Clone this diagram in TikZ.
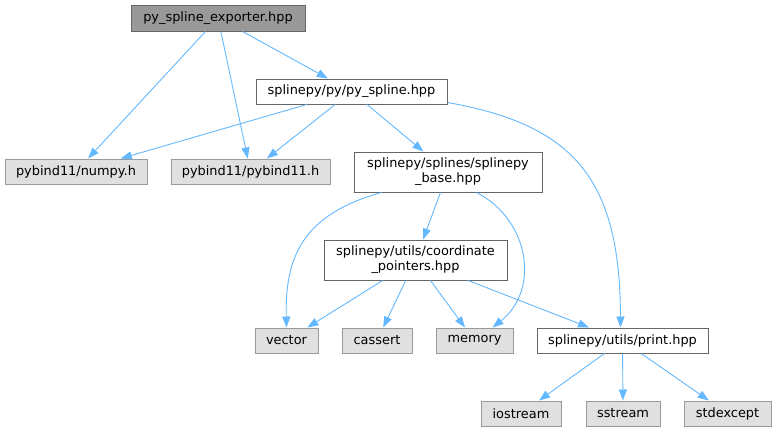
\documentclass[tikz,border=0pt]{standalone}
\usepackage{fontspec}
\setmainfont{DejaVu Sans}
\usetikzlibrary{arrows.meta,calc}
\definecolor{edgecol}{HTML}{63B8FF}
\definecolor{bordercol}{HTML}{666666}
\definecolor{extborder}{HTML}{999999}
\definecolor{extfill}{HTML}{E0E0E0}
\definecolor{rootfill}{HTML}{999999}
\begin{document}
\begin{tikzpicture}[x=1pt,y=-1pt,
  box/.style={draw=bordercol, fill=white, minimum height=25pt, inner sep=0pt,
    font=\fontsize{12.9}{15}\selectfont, align=center, line width=1pt},
  ext/.style={box, fill=extfill, draw=extborder},
  root/.style={box, fill=rootfill, draw=bordercol},
  dep/.style={draw=edgecol, line width=0.9pt, -{Triangle[length=11pt,width=8pt]}}]
\useasboundingbox (0,0) rectangle (777,432);

\node[root, minimum width=174pt, minimum height=26pt] (exp) at (218,18) {py\_spline\_exporter.hpp};
\node[box, minimum width=191pt] (pys) at (351.5,91.5) {splinepy/py/py\_spline.hpp};
\node[ext, minimum width=142pt] (np) at (76,171.5) {pybind11/numpy.h};
\node[ext, minimum width=159pt] (pb) at (250.5,171.5) {pybind11/pybind11.h};
\node[box, minimum width=188pt, minimum height=40pt] (base) at (448,172) {splinepy/splines/splinepy\\\_base.hpp};
\node[box, minimum width=183pt, minimum height=40pt] (coord) at (415.5,260) {splinepy/utils/coordinate\\\_pointers.hpp};
\node[ext, minimum width=63pt] (vec) at (286.5,340.5) {vector};
\node[ext, minimum width=70pt] (cas) at (377,340.5) {cassert};
\node[ext, minimum width=77pt] (mem) at (474.5,340.5) {memory};
\node[box, minimum width=171pt] (prt) at (622.5,340.5) {splinepy/utils/print.hpp};
\node[ext, minimum width=80pt] (ios) at (521,413.5) {iostream};
\node[ext, minimum width=74pt] (sst) at (623,413.5) {sstream};
\node[ext, minimum width=87pt] (std) at (727.5,413.5) {stdexcept};

\draw[dep] (exp) -- (np);
\draw[dep] (exp) -- (pb);
\draw[dep] (exp) -- (pys);
\draw[dep] (pys) -- (np);
\draw[dep] (pys) -- (pb);
\draw[dep] (pys) -- (base);
\draw[dep] ($(pys.east)+(0,11)$) .. controls (575,125) and (620,180) .. ($(prt.north)+(-2,0)$);
\draw[dep] ($(base.south west)+(28,0)$) .. controls (300,215) and (285,260) .. ($(vec.north)+(0,0)$);
\draw[dep] (base) -- (coord);
\draw[dep] ($(base.south west)+(123,0)$) .. controls (530,220) and (540,290) .. ($(mem.north)+(18,0)$);
\draw[dep] (coord) -- (vec);
\draw[dep] (coord) -- (cas);
\draw[dep] (coord) -- (mem);
\draw[dep] (coord) -- (prt);
\draw[dep] (prt) -- (ios);
\draw[dep] (prt) -- (sst);
\draw[dep] (prt) -- (std);
\end{tikzpicture}
\end{document}
